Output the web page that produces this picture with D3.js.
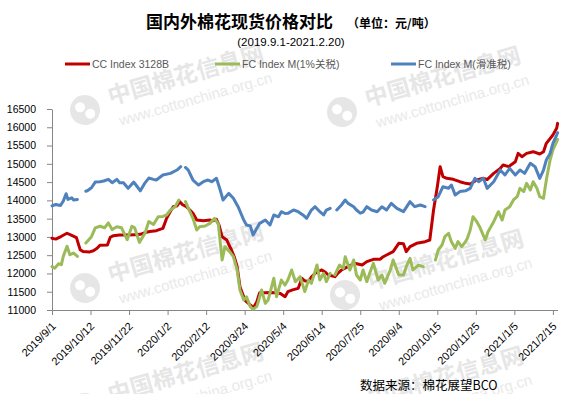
<!DOCTYPE html>
<html>
<head>
<meta charset="utf-8">
<script src="https://cdn.jsdelivr.net/npm/d3@7"></script>
<style>
  body { margin: 0; background: #fff; }
  svg { display: block; font-family: "Liberation Sans", "Noto Sans CJK SC", sans-serif; }
</style>
</head>
<body>
<div id="chart"></div>
<script>
// CC Index 3128B (元/吨)
const ccDates = ['2019-09-01','2019-09-05','2019-09-11','2019-09-17','2019-09-22','2019-09-27','2019-10-01','2019-10-04','2019-10-11','2019-10-15',
  '2019-10-19','2019-10-22','2019-10-30','2019-11-02','2019-11-05','2019-11-12','2019-11-21','2019-11-28','2019-12-04','2019-12-09',
  '2019-12-14','2019-12-21','2019-12-28','2020-01-01','2020-01-05','2020-01-08','2020-01-12','2020-01-15','2020-01-18','2020-01-22',
  '2020-01-26','2020-01-29','2020-02-02','2020-02-09','2020-02-16','2020-02-19','2020-02-23','2020-02-26','2020-02-29','2020-03-05',
  '2020-03-07','2020-03-10','2020-03-13','2020-03-16','2020-03-19','2020-03-23','2020-03-25','2020-03-28','2020-03-31','2020-04-02',
  '2020-04-06','2020-04-08','2020-04-09','2020-04-15','2020-04-20','2020-04-25','2020-05-01','2020-05-06','2020-05-09','2020-05-14',
  '2020-05-20','2020-05-24','2020-05-27','2020-05-31','2020-06-03','2020-06-07','2020-06-10','2020-06-14','2020-06-18','2020-06-21',
  '2020-06-28','2020-07-01','2020-07-05','2020-07-12','2020-07-19','2020-07-27','2020-08-01','2020-08-08','2020-08-15','2020-08-18',
  '2020-08-22','2020-08-29','2020-09-04','2020-09-09','2020-09-12','2020-09-16','2020-09-23','2020-10-02','2020-10-07','2020-10-11',
  '2020-10-15','2020-10-18','2020-10-21','2020-10-25','2020-11-01','2020-11-08','2020-11-14','2020-11-19','2020-11-26','2020-12-03',
  '2020-12-07','2020-12-14','2020-12-21','2020-12-24','2020-12-30','2021-01-06','2021-01-09','2021-01-13','2021-01-18','2021-01-25',
  '2021-02-01','2021-02-05','2021-02-08','2021-02-15','2021-02-19','2021-02-20'];
const ccValues = [12962,12940,13017,13100,13040,12980,12650,12600,12590,12620,
  12687,12770,12780,12990,13030,13050,13050,13060,13070,13120,
  13150,13170,13234,13508,13700,13827,13850,13964,13880,13827,
  13730,13646,13462,13444,13462,13440,13480,13300,13006,12914,
  12800,12642,12450,12186,11638,11364,11250,11182,11120,11046,
  11228,11400,11474,11474,11480,11474,11450,11364,11502,11550,
  11593,11867,11800,11776,11900,12004,12050,12095,12030,11958,
  11912,12000,12094,12186,12278,12232,12323,12387,12387,12450,
  12505,12596,12824,12810,12596,12733,12824,12870,12915,13736,
  14374,14922,14648,14603,14575,14511,14466,14450,14557,14603,
  14570,14739,14876,14967,14922,15058,15286,15196,15286,15332,
  15269,15332,15560,15788,15971,16107];

// FC Index M (1%关税), null = no quote
const fc1Dates = ['2019-09-01','2019-09-04','2019-09-08','2019-09-11','2019-09-13','2019-09-17','2019-09-20','2019-09-24','2019-09-28','2019-10-01',
  '2019-10-07','2019-10-13','2019-10-17','2019-10-22','2019-10-27','2019-10-31','2019-11-04','2019-11-09','2019-11-14','2019-11-20',
  '2019-11-25','2019-11-28','2019-12-03','2019-12-09','2019-12-13','2019-12-18','2019-12-23','2019-12-28','2020-01-01','2020-01-05',
  '2020-01-10','2020-01-14','2020-01-18','2020-01-21','2020-01-25','2020-01-29','2020-02-02','2020-02-05','2020-02-11','2020-02-16',
  '2020-02-21','2020-02-25','2020-02-29','2020-03-03','2020-03-08','2020-03-12','2020-03-16','2020-03-19','2020-03-23','2020-03-26',
  '2020-03-30','2020-04-02','2020-04-06','2020-04-08','2020-04-11','2020-04-15','2020-04-18','2020-04-24','2020-04-27','2020-05-02',
  '2020-05-06','2020-05-09','2020-05-13','2020-05-17','2020-05-22','2020-05-27','2020-05-31','2020-06-03','2020-06-09','2020-06-12',
  '2020-06-16','2020-06-19','2020-06-23','2020-06-26','2020-06-28','2020-07-03','2020-07-07','2020-07-09','2020-07-14','2020-07-18',
  '2020-07-21','2020-07-25','2020-07-28','2020-08-01','2020-08-04','2020-08-08','2020-08-13','2020-08-17','2020-08-20','2020-08-26',
  '2020-08-29','2020-09-04','2020-09-09','2020-09-12','2020-09-16','2020-09-19','2020-09-25','2020-09-30','2020-10-05','2020-10-13',
  '2020-10-16','2020-10-20','2020-10-23','2020-10-27','2020-10-30','2020-11-03','2020-11-06','2020-11-10','2020-11-14','2020-11-16',
  '2020-11-19','2020-11-22','2020-11-26','2020-11-29','2020-12-05','2020-12-08','2020-12-14','2020-12-19','2020-12-23','2020-12-26',
  '2020-12-31','2021-01-04','2021-01-08','2021-01-11','2021-01-15','2021-01-18','2021-01-22','2021-01-25','2021-01-29','2021-02-01',
  '2021-02-05','2021-02-08','2021-02-12','2021-02-15','2021-02-19','2021-02-20'];
const fc1Values = [12186,12146,12265,12240,12467,12742,12512,12558,12467,null,
  12833,13006,13246,13292,13250,13383,13200,13280,13250,12925,
  13292,13250,12850,13108,13420,13340,13553,13560,13599,13736,
  13827,14010,null,13964,13736,13508,13189,13280,13300,13370,
  13508,13350,12368,12733,12597,12460,12094,11547,11274,11360,
  11091,11018,11100,11274,11547,11182,11274,11867,11364,11820,
  11680,11820,12094,11775,11912,11502,11820,11730,12231,11820,
  12004,11775,12004,null,11958,12231,12140,12459,12094,12368,
  11958,11821,12095,11775,12004,12277,11821,11958,11730,12095,
  12368,11958,11958,12186,12414,12095,12230,12186,null,12368,
  12642,12779,13006,13097,12870,12687,12870,12733,12870,12961,
  13189,13553,13416,13280,12915,13143,13416,13690,13462,13736,
  13827,14010,14101,14329,14240,14466,14283,14511,14329,14101,
  14056,14557,15104,15378,15605,15667];

// FC Index M (滑准税), null = no quote
const fcsDates = ['2019-09-01','2019-09-05','2019-09-10','2019-09-13','2019-09-16','2019-09-18','2019-09-22','2019-09-24','2019-09-28','2019-10-01',
  '2019-10-07','2019-10-09','2019-10-13','2019-10-17','2019-10-22','2019-10-26','2019-10-31','2019-11-04','2019-11-09','2019-11-12',
  '2019-11-16','2019-11-21','2019-11-27','2019-11-30','2019-12-04','2019-12-09','2019-12-13','2019-12-18','2019-12-21','2019-12-28',
  '2020-01-05','2020-01-12','2020-01-16','2020-01-18','2020-01-21','2020-01-24','2020-01-29','2020-02-04','2020-02-09','2020-02-14',
  '2020-02-18','2020-02-23','2020-02-27','2020-03-01','2020-03-07','2020-03-12','2020-03-17','2020-03-23','2020-03-26','2020-03-30',
  '2020-04-02','2020-04-06','2020-04-09','2020-04-15','2020-04-20','2020-04-24','2020-04-29','2020-05-02','2020-05-06','2020-05-09',
  '2020-05-15','2020-05-20','2020-05-25','2020-05-29','2020-06-03','2020-06-07','2020-06-12','2020-06-16','2020-06-19','2020-06-23',
  '2020-06-26','2020-06-30','2020-07-05','2020-07-09','2020-07-12','2020-07-18','2020-07-21','2020-07-25','2020-07-28','2020-08-01',
  '2020-08-06','2020-08-12','2020-08-17','2020-08-22','2020-08-27','2020-09-02','2020-09-09','2020-09-16','2020-09-21','2020-09-27',
  '2020-10-02','2020-10-05','2020-10-11','2020-10-16','2020-10-21','2020-10-27','2020-10-30','2020-11-03','2020-11-08','2020-11-14',
  '2020-11-19','2020-11-24','2020-11-28','2020-12-03','2020-12-07','2020-12-14','2020-12-21','2020-12-26','2020-12-31','2021-01-06',
  '2021-01-11','2021-01-16','2021-01-22','2021-01-27','2021-02-01','2021-02-05','2021-02-08','2021-02-12','2021-02-15','2021-02-19',
  '2021-02-20'];
const fcsValues = [13850,13887,13860,13979,14181,14025,14070,14010,14025,null,
  14250,14270,14346,14501,14511,14529,14575,14483,14575,14483,
  14480,14330,14500,14400,14260,14480,14610,14575,14557,14694,
  14739,14830,14922,null,14900,14830,14557,14420,14511,14557,
  14511,14603,14283,14010,14192,14056,13827,13462,13326,13300,
  13052,13234,13371,13462,13326,13599,13550,13690,13640,13645,
  13736,13690,13600,13508,13736,13827,13690,13600,13736,13782,
  null,13736,13873,14010,13918,13827,13736,13650,13680,13827,
  13736,13690,13827,13736,13919,13782,13690,13964,13827,13873,
  13827,null,14010,14101,14374,14330,14420,14147,14240,14260,
  14329,14603,14511,14603,14329,14511,14830,14694,14876,14694,
  14830,14739,15013,14922,14603,14830,15104,15286,15560,15788,
  15850];

const seriesNames = ['CC Index 3128B', 'FC Index M(1%关税)', 'FC Index M(滑准税)'];
const seriesColors = ['#c00000', '#9bbb59', '#4f81bd'];

const xTickLabels = ['2019/9/1','2019/10/12','2019/11/22','2020/1/2','2020/2/12','2020/3/24','2020/5/4',
  '2020/6/14','2020/7/25','2020/9/4','2020/10/15','2020/11/25','2021/1/5','2021/2/15'];
const yTicks = [11000,11500,12000,12500,13000,13500,14000,14500,15000,15500,16000,16500];

const W = 565, H = 394;
const parse = d3.timeParse('%Y-%m-%d');
const parseTick = d3.timeParse('%Y/%m/%d');

const x = d3.scaleTime()
    .domain([parse('2019-09-01'), parse('2021-02-20')])
    .range([52, 557.6]);
const y = d3.scaleLinear()
    .domain([11000, 16500])
    .range([310, 109]);

const svg = d3.select('#chart')
    .append('svg')
    .attr('width', W)
    .attr('height', H)
    .style('background-color', '#ffffff');

// faint site watermarks behind the plot
const marks = [[85, 110], [342, 112], [85, 288], [345, 295], [85, 408], [345, 412]];
marks.forEach(([mx, my]) => {
    const g = svg.append('g').attr('transform', `translate(${mx},${my}) rotate(-16)`);
    g.append('circle').attr('r', 15).attr('fill', '#e6e6e6');
    g.append('circle').attr('cx', -4).attr('cy', -4).attr('r', 5).attr('fill', '#fff');
    g.append('circle').attr('cx', 4).attr('cy', 5).attr('r', 5).attr('fill', '#fff');
    g.append('text')
        .attr('x', 26).attr('y', 2)
        .style('font-family', '"Noto Sans CJK SC", sans-serif')
        .style('font-weight', 'bold')
        .style('font-size', '23px')
        .attr('fill', '#e6e6e6')
        .text('中国棉花信息网');
    g.append('text')
        .attr('x', 30).attr('y', 25)
        .style('font-size', '15px')
        .attr('fill', '#e9e9e9')
        .text('www.cottonchina.org.cn');
});

// titles
svg.append('text')
    .attr('x', 146).attr('y', 28)
    .style('font-family', '"Noto Sans CJK SC", sans-serif')
    .style('font-weight', 'bold')
    .style('font-size', '17px')
    .text('国内外棉花现货价格对比');
svg.append('text')
    .attr('x', 347).attr('y', 28)
    .style('font-family', '"Noto Sans CJK SC", sans-serif')
    .style('font-weight', 'bold')
    .style('font-size', '12px')
    .text('（单位：元/吨）');
svg.append('text')
    .attr('x', 291).attr('y', 46)
    .attr('text-anchor', 'middle')
    .style('font-size', '11.5px')
    .text('(2019.9.1-2021.2.20)');

// legend
const legendX = [65, 215, 391];
seriesNames.forEach((name, i) => {
    svg.append('line')
        .attr('x1', legendX[i]).attr('x2', legendX[i] + 25)
        .attr('y1', 64).attr('y2', 64)
        .attr('stroke', seriesColors[i])
        .attr('stroke-width', 3);
    svg.append('text')
        .attr('x', legendX[i] + 27).attr('y', 68)
        .style('font-size', '10.5px')
        .attr('fill', '#595959')
        .text(name);
});

// axes
const axisColor = '#868686';
const yAxis = svg.append('g')
    .attr('transform', 'translate(52,0)')
    .call(d3.axisLeft(y).tickValues(yTicks).tickSize(5).tickSizeOuter(0).tickPadding(11).tickFormat(d3.format('d')));
const xAxis = svg.append('g')
    .attr('transform', 'translate(0,310)')
    .call(d3.axisBottom(x).tickValues(xTickLabels.map(parseTick)).tickSize(5).tickSizeOuter(0)
        .tickFormat((d, i) => xTickLabels[i]));

[yAxis, xAxis].forEach(a => {
    a.select('.domain').attr('stroke', axisColor);
    a.selectAll('.tick line').attr('stroke', axisColor);
    a.selectAll('.tick text')
        .attr('fill', '#000')
        .style('font-size', '10.5px')
        .style('font-family', '"Liberation Sans", sans-serif');
});
xAxis.selectAll('.tick text')
    .style('font-size', '11px')
    .attr('y', 0).attr('dy', 0)
    .attr('text-anchor', 'end')
    .attr('transform', 'translate(4,17) rotate(-45)');

// series lines
const line = d3.line()
    .defined(d => d.v !== null)
    .x(d => x(d.t))
    .y(d => y(d.v));

const series = [
    [ccDates, ccValues],
    [fc1Dates, fc1Values],
    [fcsDates, fcsValues]
];
series.forEach(([dates, values], i) => {
    if (dates.length !== values.length) console.error('length mismatch', i, dates.length, values.length);
    const pts = dates.map((d, j) => ({ t: parse(d), v: values[j] }));
    svg.append('path')
        .datum(pts)
        .attr('d', line)
        .attr('fill', 'none')
        .attr('stroke', seriesColors[i])
        .attr('stroke-width', 3)
        .attr('stroke-linejoin', 'round')
        .attr('stroke-linecap', 'round');
});

// source note
svg.append('text')
    .attr('x', 360).attr('y', 390)
    .style('font-family', '"Noto Sans CJK SC", sans-serif')
    .style('font-size', '12.5px')
    .text('数据来源：棉花展望BCO');
</script>
</body>
</html>
